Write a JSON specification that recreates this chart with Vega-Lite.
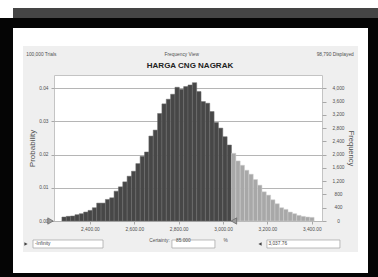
{
  "$schema": "https://vega.github.io/schema/vega-lite/v6.json",
  "padding": 0,
  "background": "#efefef",
  "config": {
    "view": {"stroke": null},
    "concat": {"spacing": 0},
    "font": "Liberation Sans",
    "axis": {"labelFont": "Liberation Sans", "titleFont": "Liberation Sans", "labelColor": "#505050", "titleColor": "#505050", "domain": false, "tickColor": "#a8a8a8", "titleFontWeight": "normal"},
    "title": {"font": "Liberation Sans", "subtitleFont": "Liberation Sans"}
  },
  "datasets": {
    "blank": [{}],
    "limits": [
      {"limit": "lower", "label": "-Infinity"},
      {"limit": "upper", "value": 3037.76, "label": "3,037.76"}
    ],
    "hist": [
      {"x0":2273.6,"x1":2293.2,"prob":0.0012,"zone":"in"},
      {"x0":2293.2,"x1":2312.8,"prob":0.0014,"zone":"in"},
      {"x0":2312.8,"x1":2332.4,"prob":0.0015,"zone":"in"},
      {"x0":2332.4,"x1":2352.0,"prob":0.0019,"zone":"in"},
      {"x0":2352.0,"x1":2371.6,"prob":0.0022,"zone":"in"},
      {"x0":2371.6,"x1":2391.2,"prob":0.0027,"zone":"in"},
      {"x0":2391.2,"x1":2410.8,"prob":0.0032,"zone":"in"},
      {"x0":2410.8,"x1":2430.4,"prob":0.0040,"zone":"in"},
      {"x0":2430.4,"x1":2450.0,"prob":0.0054,"zone":"in"},
      {"x0":2450.0,"x1":2469.6,"prob":0.0054,"zone":"in"},
      {"x0":2469.6,"x1":2489.2,"prob":0.0065,"zone":"in"},
      {"x0":2489.2,"x1":2508.8,"prob":0.0070,"zone":"in"},
      {"x0":2508.8,"x1":2528.4,"prob":0.0090,"zone":"in"},
      {"x0":2528.4,"x1":2548.0,"prob":0.0103,"zone":"in"},
      {"x0":2548.0,"x1":2567.6,"prob":0.0118,"zone":"in"},
      {"x0":2567.6,"x1":2587.2,"prob":0.0135,"zone":"in"},
      {"x0":2587.2,"x1":2606.8,"prob":0.0150,"zone":"in"},
      {"x0":2606.8,"x1":2626.4,"prob":0.0173,"zone":"in"},
      {"x0":2626.4,"x1":2646.0,"prob":0.0195,"zone":"in"},
      {"x0":2646.0,"x1":2665.6,"prob":0.0208,"zone":"in"},
      {"x0":2665.6,"x1":2685.2,"prob":0.0256,"zone":"in"},
      {"x0":2685.2,"x1":2704.8,"prob":0.0274,"zone":"in"},
      {"x0":2704.8,"x1":2724.4,"prob":0.0324,"zone":"in"},
      {"x0":2724.4,"x1":2744.0,"prob":0.0353,"zone":"in"},
      {"x0":2744.0,"x1":2763.6,"prob":0.0367,"zone":"in"},
      {"x0":2763.6,"x1":2783.2,"prob":0.0382,"zone":"in"},
      {"x0":2783.2,"x1":2802.8,"prob":0.0403,"zone":"in"},
      {"x0":2802.8,"x1":2822.4,"prob":0.0397,"zone":"in"},
      {"x0":2822.4,"x1":2842.0,"prob":0.0405,"zone":"in"},
      {"x0":2842.0,"x1":2861.6,"prob":0.0410,"zone":"in"},
      {"x0":2861.6,"x1":2881.2,"prob":0.0417,"zone":"in"},
      {"x0":2881.2,"x1":2900.8,"prob":0.0390,"zone":"in"},
      {"x0":2900.8,"x1":2920.4,"prob":0.0360,"zone":"in"},
      {"x0":2920.4,"x1":2940.0,"prob":0.0355,"zone":"in"},
      {"x0":2940.0,"x1":2959.6,"prob":0.0330,"zone":"in"},
      {"x0":2959.6,"x1":2979.2,"prob":0.0297,"zone":"in"},
      {"x0":2979.2,"x1":2998.8,"prob":0.0280,"zone":"in"},
      {"x0":2998.8,"x1":3018.4,"prob":0.0254,"zone":"in"},
      {"x0":3018.4,"x1":3038.0,"prob":0.0229,"zone":"in"},
      {"x0":3038.0,"x1":3057.6,"prob":0.0204,"zone":"out"},
      {"x0":3057.6,"x1":3077.2,"prob":0.0181,"zone":"out"},
      {"x0":3077.2,"x1":3096.8,"prob":0.0168,"zone":"out"},
      {"x0":3096.8,"x1":3116.4,"prob":0.0153,"zone":"out"},
      {"x0":3116.4,"x1":3136.0,"prob":0.0141,"zone":"out"},
      {"x0":3136.0,"x1":3155.6,"prob":0.0125,"zone":"out"},
      {"x0":3155.6,"x1":3175.2,"prob":0.0108,"zone":"out"},
      {"x0":3175.2,"x1":3194.8,"prob":0.0088,"zone":"out"},
      {"x0":3194.8,"x1":3214.4,"prob":0.0078,"zone":"out"},
      {"x0":3214.4,"x1":3234.0,"prob":0.0064,"zone":"out"},
      {"x0":3234.0,"x1":3253.6,"prob":0.0052,"zone":"out"},
      {"x0":3253.6,"x1":3273.2,"prob":0.0040,"zone":"out"},
      {"x0":3273.2,"x1":3292.8,"prob":0.0035,"zone":"out"},
      {"x0":3292.8,"x1":3312.4,"prob":0.0027,"zone":"out"},
      {"x0":3312.4,"x1":3332.0,"prob":0.0022,"zone":"out"},
      {"x0":3332.0,"x1":3351.6,"prob":0.0017,"zone":"out"},
      {"x0":3351.6,"x1":3371.2,"prob":0.0014,"zone":"out"},
      {"x0":3371.2,"x1":3390.8,"prob":0.0012,"zone":"out"},
      {"x0":3390.8,"x1":3410.4,"prob":0.0011,"zone":"out"}
    ]
  },
  "data": {"name": "blank"},
  "columns": 7,
  "bounds": "flush",
  "spacing": 0,
  "align": "each",
  "concat": [
    {"width": 13, "height": 8, "mark": {"type": "point", "opacity": 0}, "view": {"fill": "#ffffff"}},
    {"width": 10, "height": 8, "mark": {"type": "point", "opacity": 0}, "view": {"fill": "#ffffff"}},
    {"width": 31, "height": 8, "mark": {"type": "point", "opacity": 0}, "view": {"fill": "#ffffff"}},
    {"width": 268, "height": 8, "mark": {"type": "point", "opacity": 0}, "view": {"fill": "#ffffff"}},
    {"width": 36, "height": 8, "mark": {"type": "point", "opacity": 0}, "view": {"fill": "#ffffff"}},
    {"width": 10, "height": 8, "mark": {"type": "point", "opacity": 0}, "view": {"fill": "#ffffff"}},
    {"width": 10, "height": 8, "mark": {"type": "point", "opacity": 0}, "view": {"fill": "#ffffff"}},

    {"width": 13, "height": 10, "mark": {"type": "point", "opacity": 0}, "view": {"fill": "#ffffff"}},
    {"width": 10, "height": 10, "mark": {"type": "point", "opacity": 0}, "view": {"fill": "#454545"}},
    {"width": 31, "height": 10, "mark": {"type": "point", "opacity": 0}, "view": {"fill": "#454545"}},
    {"width": 268, "height": 10, "mark": {"type": "point", "opacity": 0}, "view": {"fill": "#454545"}},
    {"width": 36, "height": 10, "mark": {"type": "point", "opacity": 0}, "view": {"fill": "#454545"}},
    {"width": 10, "height": 10, "mark": {"type": "point", "opacity": 0}, "view": {"fill": "#454545"}},
    {"width": 10, "height": 10, "mark": {"type": "point", "opacity": 0}, "view": {"fill": "#454545"}},

    {"width": 13, "height": 10, "mark": {"type": "point", "opacity": 0}, "view": {"fill": "#050505"}},
    {"width": 10, "height": 10, "mark": {"type": "point", "opacity": 0}, "view": {"fill": "#050505"}},
    {"width": 31, "height": 10, "mark": {"type": "point", "opacity": 0}, "view": {"fill": "#050505"}},
    {"width": 268, "height": 10, "mark": {"type": "point", "opacity": 0}, "view": {"fill": "#050505"}},
    {"width": 36, "height": 10, "mark": {"type": "point", "opacity": 0}, "view": {"fill": "#050505"}},
    {"width": 10, "height": 10, "mark": {"type": "point", "opacity": 0}, "view": {"fill": "#050505"}},
    {"width": 10, "height": 10, "mark": {"type": "point", "opacity": 0}, "view": {"fill": "#050505"}},

    {"width": 13, "height": 18, "mark": {"type": "point", "opacity": 0}, "view": {"fill": "#050505"}},
    {"width": 10, "height": 18, "mark": {"type": "point", "opacity": 0}, "view": {"fill": "#ffffff"}},
    {"width": 31, "height": 18, "mark": {"type": "point", "opacity": 0}, "view": {"fill": "#ffffff"}},
    {"width": 268, "height": 18, "mark": {"type": "point", "opacity": 0}, "view": {"fill": "#ffffff"}},
    {"width": 36, "height": 18, "mark": {"type": "point", "opacity": 0}, "view": {"fill": "#ffffff"}},
    {"width": 10, "height": 18, "mark": {"type": "point", "opacity": 0}, "view": {"fill": "#ffffff"}},
    {"width": 10, "height": 18, "mark": {"type": "point", "opacity": 0}, "view": {"fill": "#050505"}},

    {"width": 13, "height": 29, "mark": {"type": "point", "opacity": 0}, "view": {"fill": "#050505"}},
    {"width": 10, "height": 29, "mark": {"type": "point", "opacity": 0}, "view": {"fill": "#ffffff"}},
    {"width": 31, "height": 29, "mark": {"type": "point", "opacity": 0}},
    {"width": 268, "height": 29, "mark": {"type": "point", "opacity": 0}},
    {"width": 36, "height": 29, "mark": {"type": "point", "opacity": 0}},
    {"width": 10, "height": 29, "mark": {"type": "point", "opacity": 0}, "view": {"fill": "#ffffff"}},
    {"width": 10, "height": 29, "mark": {"type": "point", "opacity": 0}, "view": {"fill": "#050505"}},

    {"width": 13, "height": 146, "mark": {"type": "point", "opacity": 0}, "view": {"fill": "#050505"}},
    {"width": 10, "height": 146, "mark": {"type": "point", "opacity": 0}, "view": {"fill": "#ffffff"}},
    {"width": 31, "height": 146, "mark": {"type": "point", "opacity": 0}},
    {
      "width": 268,
      "height": 146,
      "data": {"name": "hist"},
      "view": {"fill": "#ffffff", "stroke": "#c4c4c4"},
      "title": {
        "text": "100,000 Trials\u2003\u2003\u2003\u2003\u2003\u2003\u2003\u2003\u2003\u2003\u2003\u2003\u2003\u2003\u2003\u2003\u2003\u2003\u2003\u2003\u2003\u2003\u00a0\u00a0Frequency View\u2003\u2003\u2003\u2003\u2003\u2003\u2003\u2003\u2003\u2003\u2003\u2003\u2003\u2003\u2003\u2003\u2003\u2003\u2003\u2003\u2003\u2003\u2003\u2003\u00a0\u00a098,790 Displayed",
        "subtitle": "HARGA CNG NAGRAK",
        "fontSize": 4.8,
        "fontWeight": "normal",
        "color": "#505050",
        "subtitleFontSize": 8,
        "subtitleFontWeight": "bold",
        "subtitleColor": "#222222",
        "subtitlePadding": 5,
        "offset": 5,
        "anchor": "middle",
        "frame": "group",
        "dx": 2
      },
      "layer": [
        {
          "mark": {"type": "rect", "strokeWidth": 0.5},
          "encoding": {
            "x": {"field": "x0", "type": "quantitative", "scale": {"domain": [2238, 3446], "nice": false, "zero": false},
              "axis": {"values": [2400, 2600, 2800, 3000, 3200, 3400], "format": ",.2f", "grid": false, "tickSize": 3, "labelPadding": 2, "labelFontSize": 4.8, "titleFontSize": 4.8, "titlePadding": 7, "zindex": 1,
                "title": "Certainty:\u2003\u00a085.000\u2003\u2003\u2003\u2003\u2003\u2003\u00a0\u00a0\u00a0%"}},
            "x2": {"field": "x1"},
            "y": {"field": "prob", "type": "quantitative", "scale": {"domain": [0, 0.044], "nice": false},
              "axis": {"values": [0, 0.01, 0.02, 0.03, 0.04], "format": ".2f", "title": "Probability", "grid": true, "gridColor": "#b5b5b5", "tickSize": 3, "labelPadding": 3, "labelFontSize": 4.8, "titleFontSize": 8, "titlePadding": 2}},
            "y2": {"datum": 0},
            "color": {"field": "zone", "type": "nominal", "scale": {"domain": ["in", "out"], "range": ["#474747", "#a8a8a8"]}, "legend": null},
            "stroke": {"field": "zone", "type": "nominal", "scale": {"domain": ["in", "out"], "range": ["#6e6e6e", "#cfcfcf"]}, "legend": null}
          }
        },
        {
          "mark": {"type": "rect", "opacity": 0},
          "encoding": {
            "x": {"field": "x0", "type": "quantitative", "scale": {"domain": [2238, 3446], "nice": false, "zero": false}},
            "x2": {"field": "x1"},
            "y": {"field": "prob", "type": "quantitative", "scale": {"domain": [0, 0.044], "nice": false},
              "axis": {"orient": "right", "values": [0, 0.004, 0.008, 0.012, 0.016, 0.02, 0.024, 0.028, 0.032, 0.036, 0.04], "labelExpr": "format(datum.value * 100000, ',.0f')", "grid": false, "tickSize": 4, "labelAlign": "center", "labelPadding": 12, "labelFontSize": 4.8, "title": "Frequency", "titleFontSize": 7.5, "titlePadding": 2}},
            "y2": {"datum": 0}
          }
        },
        {
          "data": {"name": "limits"},
          "transform": [{"filter": "datum.limit == 'lower'"}],
          "mark": {"type": "point", "shape": "M-1,-0.114L1,-0.114L1,0.114L-1,0.114Z", "size": 4900, "filled": true, "fill": "#ffffff", "stroke": "#a0a0a0", "strokeWidth": 0.7, "opacity": 1, "xOffset": 14, "yOffset": 23},
          "encoding": {
            "x": {"datum": 2238, "type": "quantitative", "scale": {"domain": [2238, 3446], "nice": false, "zero": false}},
            "y": {"datum": 0, "type": "quantitative", "scale": {"domain": [0, 0.044]}, "axis": null}
          }
        },
        {
          "data": {"name": "limits"},
          "transform": [{"filter": "datum.limit == 'upper'"}],
          "mark": {"type": "point", "shape": "M-1,-0.11L1,-0.11L1,0.11L-1,0.11Z", "size": 5329, "filled": true, "fill": "#ffffff", "stroke": "#a0a0a0", "strokeWidth": 0.7, "opacity": 1, "xOffset": 72, "yOffset": 23},
          "encoding": {
            "x": {"field": "value", "type": "quantitative", "scale": {"domain": [2238, 3446], "nice": false, "zero": false}},
            "y": {"datum": 0, "type": "quantitative", "scale": {"domain": [0, 0.044]}, "axis": null}
          }
        },
        {
          "data": {"name": "limits"},
          "transform": [{"filter": "datum.limit == 'upper'"}],
          "mark": {"type": "point", "shape": "M-1,-0.186L1,-0.186L1,0.186L-1,0.186Z", "size": 1849, "filled": true, "fill": "#ffffff", "stroke": "#a0a0a0", "strokeWidth": 0.7, "opacity": 1, "xOffset": -38, "yOffset": 23},
          "encoding": {
            "x": {"field": "value", "type": "quantitative", "scale": {"domain": [2238, 3446], "nice": false, "zero": false}},
            "y": {"datum": 0, "type": "quantitative", "scale": {"domain": [0, 0.044]}, "axis": null}
          }
        },
        {
          "data": {"name": "limits"},
          "transform": [{"filter": "datum.limit == 'lower'"}],
          "mark": {"type": "point", "shape": "triangle-right", "size": 40, "filled": true, "fill": "#9c9c9c", "stroke": "#555555", "strokeWidth": 0.6, "opacity": 1, "xOffset": -3.5},
          "encoding": {
            "x": {"datum": 2238, "type": "quantitative", "scale": {"domain": [2238, 3446], "nice": false, "zero": false}},
            "y": {"datum": 0, "type": "quantitative", "scale": {"domain": [0, 0.044]}, "axis": null}
          }
        },
        {
          "data": {"name": "limits"},
          "transform": [{"filter": "datum.limit == 'upper'"}],
          "mark": {"type": "point", "shape": "triangle-left", "size": 40, "filled": true, "fill": "#9c9c9c", "stroke": "#555555", "strokeWidth": 0.6, "opacity": 1, "xOffset": 2.5},
          "encoding": {
            "x": {"field": "value", "type": "quantitative", "scale": {"domain": [2238, 3446], "nice": false, "zero": false}},
            "y": {"datum": 0, "type": "quantitative", "scale": {"domain": [0, 0.044]}, "axis": null}
          }
        },
        {
          "data": {"name": "limits"},
          "transform": [{"filter": "datum.limit == 'lower'"}],
          "mark": {"type": "point", "shape": "triangle-right", "size": 14, "filled": true, "fill": "#444444", "opacity": 1, "xOffset": -28, "yOffset": 23},
          "encoding": {
            "x": {"datum": 2238, "type": "quantitative", "scale": {"domain": [2238, 3446], "nice": false, "zero": false}},
            "y": {"datum": 0, "type": "quantitative", "scale": {"domain": [0, 0.044]}, "axis": null}
          }
        },
        {
          "data": {"name": "limits"},
          "transform": [{"filter": "datum.limit == 'upper'"}],
          "mark": {"type": "point", "shape": "triangle-left", "size": 14, "filled": true, "fill": "#444444", "opacity": 1, "xOffset": 28.6, "yOffset": 23},
          "encoding": {
            "x": {"field": "value", "type": "quantitative", "scale": {"domain": [2238, 3446], "nice": false, "zero": false}},
            "y": {"datum": 0, "type": "quantitative", "scale": {"domain": [0, 0.044]}, "axis": null}
          }
        },
        {
          "data": {"name": "limits"},
          "transform": [{"filter": "datum.limit == 'lower'"}],
          "mark": {"type": "text", "align": "left", "baseline": "middle", "dx": -19, "dy": 23, "fontSize": 4.8, "color": "#444444"},
          "encoding": {
            "x": {"datum": 2238, "type": "quantitative", "scale": {"domain": [2238, 3446], "nice": false, "zero": false}},
            "y": {"datum": 0, "type": "quantitative", "scale": {"domain": [0, 0.044]}, "axis": null},
            "text": {"field": "label"}
          }
        },
        {
          "data": {"name": "limits"},
          "transform": [{"filter": "datum.limit == 'upper'"}],
          "mark": {"type": "text", "align": "left", "baseline": "middle", "dx": 37, "dy": 23, "fontSize": 4.8, "color": "#444444"},
          "encoding": {
            "x": {"field": "value", "type": "quantitative", "scale": {"domain": [2238, 3446], "nice": false, "zero": false}},
            "y": {"datum": 0, "type": "quantitative", "scale": {"domain": [0, 0.044]}, "axis": null},
            "text": {"field": "label"}
          }
        }
      ],
      "resolve": {"scale": {"y": "independent"}}
    },
    {"width": 36, "height": 146, "mark": {"type": "point", "opacity": 0}},
    {"width": 10, "height": 146, "mark": {"type": "point", "opacity": 0}, "view": {"fill": "#ffffff"}},
    {"width": 10, "height": 146, "mark": {"type": "point", "opacity": 0}, "view": {"fill": "#050505"}},

    {"width": 13, "height": 31, "mark": {"type": "point", "opacity": 0}, "view": {"fill": "#050505"}},
    {"width": 10, "height": 31, "mark": {"type": "point", "opacity": 0}, "view": {"fill": "#ffffff"}},
    {"width": 31, "height": 31, "mark": {"type": "point", "opacity": 0}},
    {"width": 268, "height": 31, "mark": {"type": "point", "opacity": 0}},
    {"width": 36, "height": 31, "mark": {"type": "point", "opacity": 0}},
    {"width": 10, "height": 31, "mark": {"type": "point", "opacity": 0}, "view": {"fill": "#ffffff"}},
    {"width": 10, "height": 31, "mark": {"type": "point", "opacity": 0}, "view": {"fill": "#050505"}},

    {"width": 13, "height": 21, "mark": {"type": "point", "opacity": 0}, "view": {"fill": "#050505"}},
    {"width": 10, "height": 21, "mark": {"type": "point", "opacity": 0}, "view": {"fill": "#ffffff"}},
    {"width": 31, "height": 21, "mark": {"type": "point", "opacity": 0}, "view": {"fill": "#ffffff"}},
    {"width": 268, "height": 21, "mark": {"type": "point", "opacity": 0}, "view": {"fill": "#ffffff"}},
    {"width": 36, "height": 21, "mark": {"type": "point", "opacity": 0}, "view": {"fill": "#ffffff"}},
    {"width": 10, "height": 21, "mark": {"type": "point", "opacity": 0}, "view": {"fill": "#ffffff"}},
    {"width": 10, "height": 21, "mark": {"type": "point", "opacity": 0}, "view": {"fill": "#050505"}},

    {"width": 13, "height": 4, "mark": {"type": "point", "opacity": 0}, "view": {"fill": "#050505"}},
    {"width": 10, "height": 4, "mark": {"type": "point", "opacity": 0}, "view": {"fill": "#050505"}},
    {"width": 31, "height": 4, "mark": {"type": "point", "opacity": 0}, "view": {"fill": "#050505"}},
    {"width": 268, "height": 4, "mark": {"type": "point", "opacity": 0}, "view": {"fill": "#050505"}},
    {"width": 36, "height": 4, "mark": {"type": "point", "opacity": 0}, "view": {"fill": "#050505"}},
    {"width": 10, "height": 4, "mark": {"type": "point", "opacity": 0}, "view": {"fill": "#050505"}},
    {"width": 10, "height": 4, "mark": {"type": "point", "opacity": 0}, "view": {"fill": "#050505"}}
  ]
}
